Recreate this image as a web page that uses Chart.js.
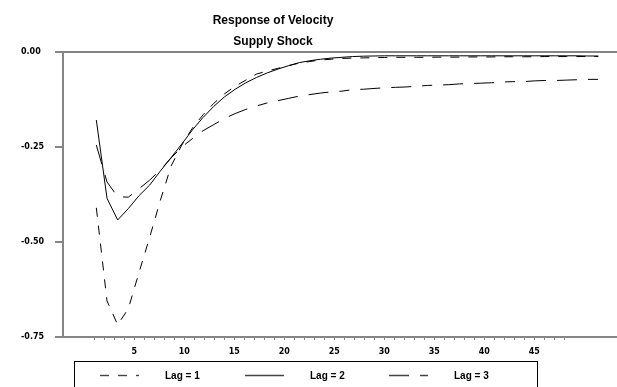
<!DOCTYPE html>
<html>
<head>
<meta charset="utf-8">
<script src="https://cdn.jsdelivr.net/npm/chart.js@4/dist/chart.umd.min.js"></script>
<style>
  body { margin: 0; background: #fff; }
  canvas { display: block; }
</style>
</head>
<body>
<canvas id="irf" width="617" height="387"></canvas>
<script>
// impulse response horizon
var steps = [1, 2, 3, 4, 5, 6, 7, 8, 9, 10, 11, 12, 13, 14, 15, 16, 17, 18, 19, 20, 21, 22, 23, 24,
             25, 26, 27, 28, 29, 30, 31, 32, 33, 34, 35, 36, 37, 38, 39, 40, 41, 42, 43, 44, 45, 46, 47, 48];

var lag1 = [-0.410, -0.655, -0.718, -0.675, -0.580, -0.487, -0.390, -0.300, -0.245, -0.200,
            -0.165, -0.135, -0.110, -0.090, -0.074, -0.058, -0.050, -0.043, -0.036, -0.029,
            -0.025, -0.021, -0.019, -0.017, -0.016, -0.0155, -0.015, -0.0145, -0.014, -0.014,
            -0.014, -0.014, -0.0135, -0.0135, -0.0135, -0.013, -0.013, -0.013, -0.0125, -0.0125,
            -0.0125, -0.0125, -0.012, -0.012, -0.012, -0.012, -0.012, -0.012];

var lag2 = [-0.179, -0.385, -0.442, -0.412, -0.378, -0.350, -0.313, -0.278, -0.242, -0.205,
            -0.172, -0.143, -0.118, -0.098, -0.081, -0.067, -0.055, -0.045, -0.036, -0.028,
            -0.023, -0.019, -0.016, -0.014, -0.012, -0.011, -0.0105, -0.010, -0.010, -0.010,
            -0.010, -0.010, -0.010, -0.010, -0.010, -0.010, -0.010, -0.010, -0.010, -0.010,
            -0.010, -0.010, -0.010, -0.010, -0.010, -0.010, -0.0105, -0.0105];

var lag3 = [-0.245, -0.342, -0.381, -0.382, -0.360, -0.337, -0.310, -0.279, -0.250, -0.228,
            -0.207, -0.191, -0.175, -0.162, -0.151, -0.142, -0.134, -0.128, -0.122, -0.116,
            -0.112, -0.108, -0.105, -0.103, -0.099, -0.098, -0.096, -0.094, -0.093, -0.092,
            -0.090, -0.088, -0.087, -0.086, -0.084, -0.083, -0.082, -0.081, -0.079, -0.078,
            -0.078, -0.076, -0.075, -0.075, -0.074, -0.073, -0.072, -0.072];

var seriesNames = ['Lag = 1', 'Lag = 2', 'Lag = 3'];
var yTicks = [0, -0.25, -0.5, -0.75];
var xTickLabels = [5, 10, 15, 20, 25, 30, 35, 40, 45];
var titleLines = ['Response of Velocity', 'Supply Shock'];

var axisGray = '#858585';
var tickFont = { family: '"DejaVu Sans", Verdana, sans-serif', size: 8, weight: 'bold' };

function points(vals) {
    return steps.map(function (s, i) { return { x: s, y: vals[i] }; });
}

function lineSet(label, vals, dash) {
    return {
        label: label,
        data: points(vals),
        xAxisID: 'x',
        yAxisID: 'y',
        borderColor: '#000',
        borderWidth: 1,
        borderDash: dash,
        pointRadius: 0,
        tension: 0,
        fill: false
    };
}

// title and boxed legend
var overlay = {
    id: 'overlay',
    afterDraw: function (chart) {
        var ctx = chart.ctx;
        ctx.save();
        ctx.fillStyle = '#000';
        ctx.textAlign = 'center';
        ctx.textBaseline = 'alphabetic';
        ctx.font = 'bold 12px "Liberation Sans", Arial, sans-serif';
        ctx.fillText(titleLines[0], 273, 24);
        ctx.fillText(titleLines[1], 273, 45);

        ctx.strokeStyle = '#000';
        ctx.lineWidth = 1;
        ctx.strokeRect(74.5, 361.5, 463, 40);

        var sampleX = [100, 245, 389];
        var textX = [165, 310, 454];
        chart.data.datasets.forEach(function (ds, i) {
            ctx.strokeStyle = '#444';
            ctx.lineWidth = 1.4;
            ctx.setLineDash(ds.borderDash || []);
            ctx.beginPath();
            ctx.moveTo(sampleX[i], 375.5);
            ctx.lineTo(sampleX[i] + 39, 375.5);
            ctx.stroke();
            ctx.setLineDash([]);
            ctx.fillStyle = '#000';
            ctx.font = 'bold 10px "Liberation Sans", Arial, sans-serif';
            ctx.textAlign = 'left';
            ctx.textBaseline = 'middle';
            ctx.fillText(ds.label, textX[i], 376.5);
        });
        ctx.restore();
    }
};

var ctx = document.getElementById('irf').getContext('2d');

var irfChart = new Chart(ctx, {
    type: 'line',
    data: {
        datasets: [
            lineSet(seriesNames[0], lag1, [9, 9]),
            lineSet(seriesNames[1], lag2, []),
            lineSet(seriesNames[2], lag3, [20, 11, 20, 11, 10, 11])
        ]
    },
    options: {
        responsive: false,
        animation: false,
        layout: { padding: { left: 21, top: 52, right: 0, bottom: 0 } },
        plugins: {
            legend: { display: false },
            title: { display: false },
            tooltip: { enabled: false }
        },
        scales: {
            // data axis (steps are spread wider than the printed tick scale)
            x: { type: 'linear', min: -2.12, max: 49.75, display: false },
            xt: {
                type: 'linear',
                position: 'bottom',
                min: -2.13,
                max: 53.27,
                afterBuildTicks: function (axis) {
                    axis.ticks = steps.map(function (s) { return { value: s }; });
                },
                afterFit: function (axis) { axis.height = 50; },
                grid: { drawOnChartArea: false, tickLength: 3, color: axisGray, lineWidth: 1 },
                border: { color: axisGray, width: 2 },
                ticks: {
                    autoSkip: false,
                    maxRotation: 0,
                    padding: 7,
                    color: '#000',
                    font: tickFont,
                    callback: function (v) { return xTickLabels.indexOf(v) >= 0 ? String(v) : ''; }
                }
            },
            y: {
                min: -0.75,
                max: 0,
                afterBuildTicks: function (axis) {
                    axis.ticks = yTicks.map(function (v) { return { value: v }; });
                },
                afterFit: function (axis) { axis.width = 42; },
                grid: {
                    color: function (c) { return c.tick && c.tick.value === 0 ? axisGray : 'rgba(0,0,0,0)'; },
                    tickColor: axisGray,
                    tickLength: 8,
                    lineWidth: 2
                },
                border: { color: axisGray, width: 2 },
                ticks: {
                    crossAlign: 'far',
                    padding: 0,
                    color: '#000',
                    font: tickFont,
                    callback: function (v) { return v.toFixed(2); }
                }
            }
        }
    },
    plugins: [overlay]
});
</script>
</body>
</html>
